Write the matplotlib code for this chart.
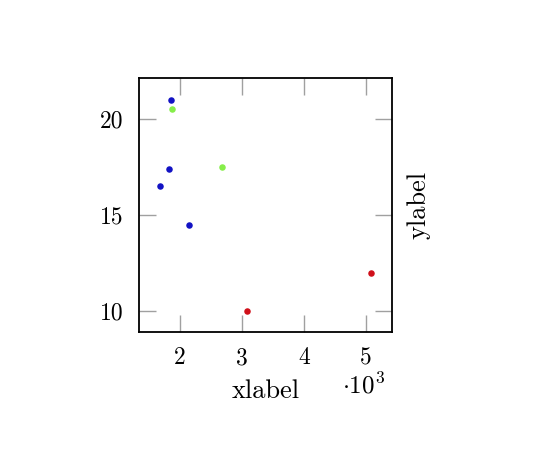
import numpy as np
import matplotlib.pyplot as plt

plt.rcParams['font.family'] = 'serif'
plt.rcParams['font.serif'] = ['cmr10']
plt.rcParams['mathtext.fontset'] = 'cm'
plt.rcParams['axes.formatter.use_mathtext'] = True

blue_x = [1.85, 1.82, 1.68, 2.15]
blue_y = [21.0, 17.4, 16.5, 14.5]
green_x = [1.87, 2.68]
green_y = [20.5, 17.5]
red_x = [3.08, 5.08]
red_y = [10.0, 12.0]

fig = plt.figure(figsize=(5.4, 4.49), dpi=100)
ax = fig.add_axes([0.2574, 0.2606, 0.4685, 0.5657])

ax.scatter(blue_x, blue_y, s=22, color='#1212c4', zorder=3, linewidths=0)
ax.scatter(green_x, green_y, s=22, color='#86ee4a', zorder=3, linewidths=0)
ax.scatter(red_x, red_y, s=22, color='#d0101a', zorder=3, linewidths=0)

ax.set_xlim(1.34, 5.42)
ax.set_ylim(8.9, 22.14)
ax.set_xticks([2, 3, 4, 5])
ax.set_yticks([10, 15, 20])
ax.set_xticklabels(['2', '3', '4', '5'])
ax.set_yticklabels(['10', '15', '20'])

ax.tick_params(direction='in', length=12, width=1, color='#a0a0a0',
               top=True, right=True, labelsize=17, pad=11)
for sp in ax.spines.values():
    sp.set_linewidth(1.3)

ax.set_xlabel('xlabel', fontsize=19, labelpad=7)
ax.yaxis.set_label_position('right')
ax.set_ylabel('ylabel', fontsize=19, labelpad=11)
fig.text(364 / 540, 1 - 386 / 449, r'$\cdot10^3$', fontsize=18,
         ha='center', va='center')

plt.savefig('out.png', dpi=100)
